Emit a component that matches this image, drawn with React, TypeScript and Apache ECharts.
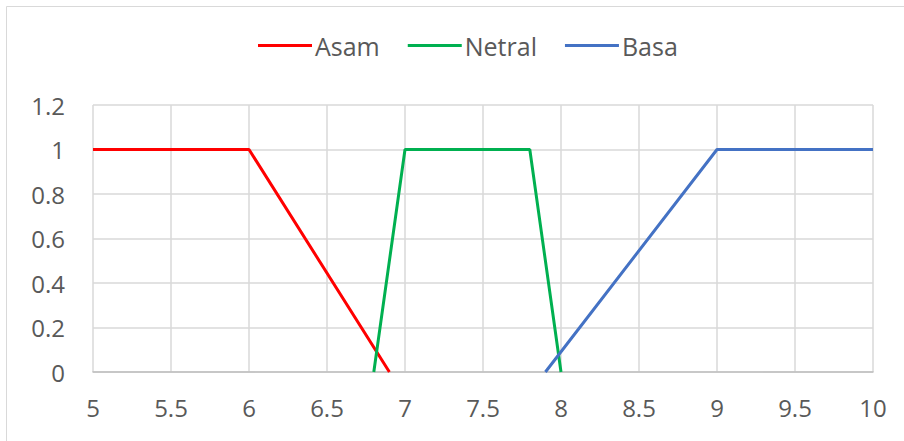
import React, { useEffect, useRef } from "react";
import * as echarts from "echarts";

const asamX = [5, 6, 6.9];
const asamY = [1, 1, 0];
const netralX = [6.8, 7, 7.8, 8];
const netralY = [0, 1, 1, 0];
const basaX = [7.9, 9, 10];
const basaY = [0, 1, 1];
const seriesNames = ["Asam", "Netral", "Basa"];
const seriesColors = ["#FF0000", "#00B050", "#4472C4"];

const FONT = "'Open Sans', 'Noto Sans', sans-serif";

export default function App() {
  const ref = useRef<HTMLDivElement>(null);
  useEffect(() => {
    if (!ref.current) return;
    const chart = echarts.init(ref.current, undefined, { renderer: "svg" });
    const pairs = (xs: number[], ys: number[]) => xs.map((x, i) => [x, ys[i]]);
    const data = [pairs(asamX, asamY), pairs(netralX, netralY), pairs(basaX, basaY)];
    chart.setOption({
      animation: false,
      backgroundColor: "#ffffff",
      graphic: [
        {
          type: "rect",
          shape: { x: 6.5, y: 6.5, width: 920, height: 460 },
          style: { fill: "none", stroke: "#D9D9D9", lineWidth: 1 },
          silent: true,
        },
      ],
      legend: {
        top: 28,
        left: 253,
        itemWidth: 54,
        itemHeight: 3,
        itemGap: 28,
        icon: "rect",
        textStyle: { fontFamily: FONT, fontSize: 25, color: "#595959", padding: [0, 0, 0, -2] },
        data: seriesNames,
      },
      grid: { left: 93, right: 31, top: 105, bottom: 69, containLabel: false },
      xAxis: {
        type: "value",
        min: 5,
        max: 10,
        interval: 0.5,
        axisLine: { show: true, lineStyle: { color: "#BFBFBF", width: 1.5 } },
        axisTick: { show: false },
        splitLine: { show: true, lineStyle: { color: "#D9D9D9", width: 1.5 } },
        axisLabel: { fontFamily: FONT, fontSize: 24, color: "#595959", margin: 23 },
      },
      yAxis: {
        type: "value",
        min: 0,
        max: 1.2,
        interval: 0.2,
        axisLine: { show: false },
        axisTick: { show: false },
        splitLine: { show: true, lineStyle: { color: "#D9D9D9", width: 1.5 } },
        axisLabel: {
          fontFamily: FONT,
          fontSize: 24,
          color: "#595959",
          margin: 28,
          formatter: (v: number) => String(Math.round(v * 10) / 10),
        },
      },
      series: seriesNames.map((name, i) => ({
        name,
        type: "line",
        data: data[i],
        showSymbol: false,
        symbol: "none",
        lineStyle: { color: seriesColors[i], width: 3 },
        itemStyle: { color: seriesColors[i] },
      })),
    });
    return () => chart.dispose();
  }, []);
  return (
    <div
      ref={ref}
      style={{ position: "absolute", left: 0, top: 0, width: 904, height: 441 }}
    />
  );
}
